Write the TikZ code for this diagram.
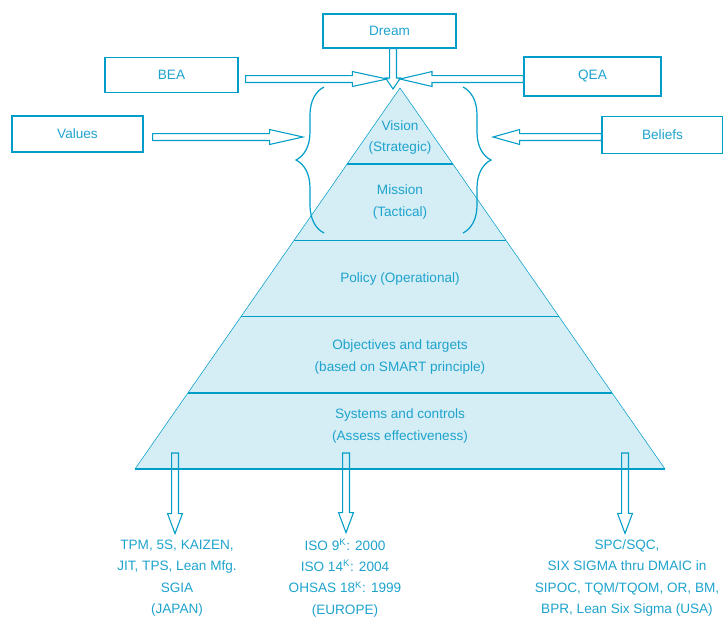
\documentclass[tikz,border=0pt]{standalone}
\usepackage{fontspec}
\setmainfont{Liberation Sans}
\usetikzlibrary{calc,decorations.pathreplacing}
\definecolor{pyrline}{RGB}{0,157,200}
\definecolor{pyrtext}{RGB}{30,163,205}
\definecolor{pyrfill}{RGB}{213,238,246}
% hollow block arrow, #1 = head length
\tikzset{hollow/.style={to path={
  ($(\tikztotarget)!#1!(\tikztostart)$) coordinate (hb)
  ($(\tikztostart)!2.6pt!90:(\tikztotarget)$) -- ($(hb)!2.6pt!90:(\tikztotarget)$)
  -- ($(hb)!5.6pt!90:(\tikztotarget)$) -- (\tikztotarget)
  -- ($(hb)!5.6pt!-90:(\tikztotarget)$) -- ($(hb)!2.6pt!-90:(\tikztotarget)$)
  -- ($(\tikztostart)!2.6pt!-90:(\tikztotarget)$) -- cycle}}}

\begin{document}
\begin{tikzpicture}[x=0.75pt,y=0.75pt,yscale=-1,xscale=1,
  lbl/.style={text=pyrtext,align=center,inner sep=0.75pt,font=\fontsize{10.2}{16}\selectfont},
  box/.style={lbl,draw=pyrline,line width=1pt,inner sep=0pt},
  layer/.style={draw=pyrline,line width=1.1pt},
  arr/.style={draw=pyrline,line width=0.8pt,line join=miter},
  brc/.style={draw=pyrline,line width=0.9pt,decorate,decoration={brace,amplitude=21pt}}]
\useasboundingbox (0,0) rectangle (723,618);

%Shape: Pyramid
\coordinate (apex) at (400,88);
\coordinate (bl) at (135,469);
\coordinate (br) at (665,469);
\fill [pyrfill] (apex) -- (bl) -- (br) -- cycle;
\draw [pyrline,line width=0.4pt] (bl) -- (apex) -- (br);
\foreach \t in {0.2,0.4,0.6,0.8,1}
  \draw [layer] ($(apex)!\t!(bl)$) -- ($(apex)!\t!(br)$);

% Text Node
\node [lbl] (vision) at (400,137.5) {Vision\\(Strategic)};
% Text Node
\node [lbl] (mission) at (400,202) {Mission\\(Tactical)};
% Text Node
\node [lbl] (policy) at (400,279) {Policy (Operational)};
% Text Node
\node [lbl] (objectives) at (400,357) {Objectives and targets\\(based on SMART principle)};
% Text Node
\node [lbl] (systems) at (400,426) {Systems and controls\\(Assess effectiveness)};

%Shape: Boxes
\node [box,minimum width=99.75pt,minimum height=25.5pt] (dream) at (389.5,31) {Dream};
\node [box,minimum width=99.75pt,minimum height=26.25pt] (bea) at (171.5,75) {BEA};
\node [box,minimum width=102.75pt,minimum height=29.25pt] (qea) at (592.5,76.5) {QEA};
\node [box,minimum width=98.25pt,minimum height=27pt] (values) at (77.5,134) {Values};
\node [box,minimum width=90.75pt,minimum height=27.75pt] (beliefs) at (662.5,135) {Beliefs};

%Shape: Braces
\draw [brc] (324,233) -- (324,87);
\draw [brc] (463,87) -- (463,233);

%Block arrows into the pyramid
\coordinate (dream tip) at (393,89);
\coordinate (dream out) at (dream.south -| dream tip);
\draw [arr,hollow=8.25pt] (dream out) to (dream tip);
\coordinate (bea out) at ($(bea.east)+(7,4)$);
\coordinate (bea tip) at (387,79);
\draw [arr,hollow=26pt] (bea out) to (bea tip);
\coordinate (qea out) at ($(qea.west)+(0,2.5)$);
\coordinate (qea tip) at (400,79);
\draw [arr,hollow=24pt] (qea out) to (qea tip);
\coordinate (values out) at ($(values.east)+(9,3)$);
\coordinate (values tip) at (303,137);
\draw [arr,hollow=25pt] (values out) to (values tip);
\coordinate (beliefs out) at ($(beliefs.west)+(0,2)$);
\coordinate (beliefs tip) at (493,137);
\draw [arr,hollow=20pt] (beliefs out) to (beliefs tip);

% Text Node
\node [lbl] (japan) at (177,578) {TPM, 5S, KAIZEN,\\JIT, TPS, Lean Mfg.\\SGIA\\(JAPAN)};
% Text Node
\node [lbl] (europe) at (345,578) {ISO 9\textsuperscript{K}: 2000\\ISO 14\textsuperscript{K}: 2004\\OHSAS 18\textsuperscript{K}: 1999\\(EUROPE)};
% Text Node
\node [lbl] (usa) at (627,578) {SPC/SQC,\\SIX SIGMA thru DMAIC in\\SIPOC, TQM/TQOM, OR, BM,\\BPR, Lean Six Sigma (USA)};

%Block arrows out of the pyramid
\coordinate (japan top) at (175,453);
\coordinate (japan tip) at ($(japan top |- japan.north)+(0,-5)$);
\draw [arr,hollow=15pt] (japan top) to (japan tip);
\coordinate (europe top) at (346,453);
\coordinate (europe tip) at ($(europe top |- europe.north)+(0,-5)$);
\draw [arr,hollow=15pt] (europe top) to (europe tip);
\coordinate (usa top) at (625,453);
\coordinate (usa tip) at ($(usa top |- usa.north)+(0,-5)$);
\draw [arr,hollow=15pt] (usa top) to (usa tip);

\end{tikzpicture}
\end{document}
